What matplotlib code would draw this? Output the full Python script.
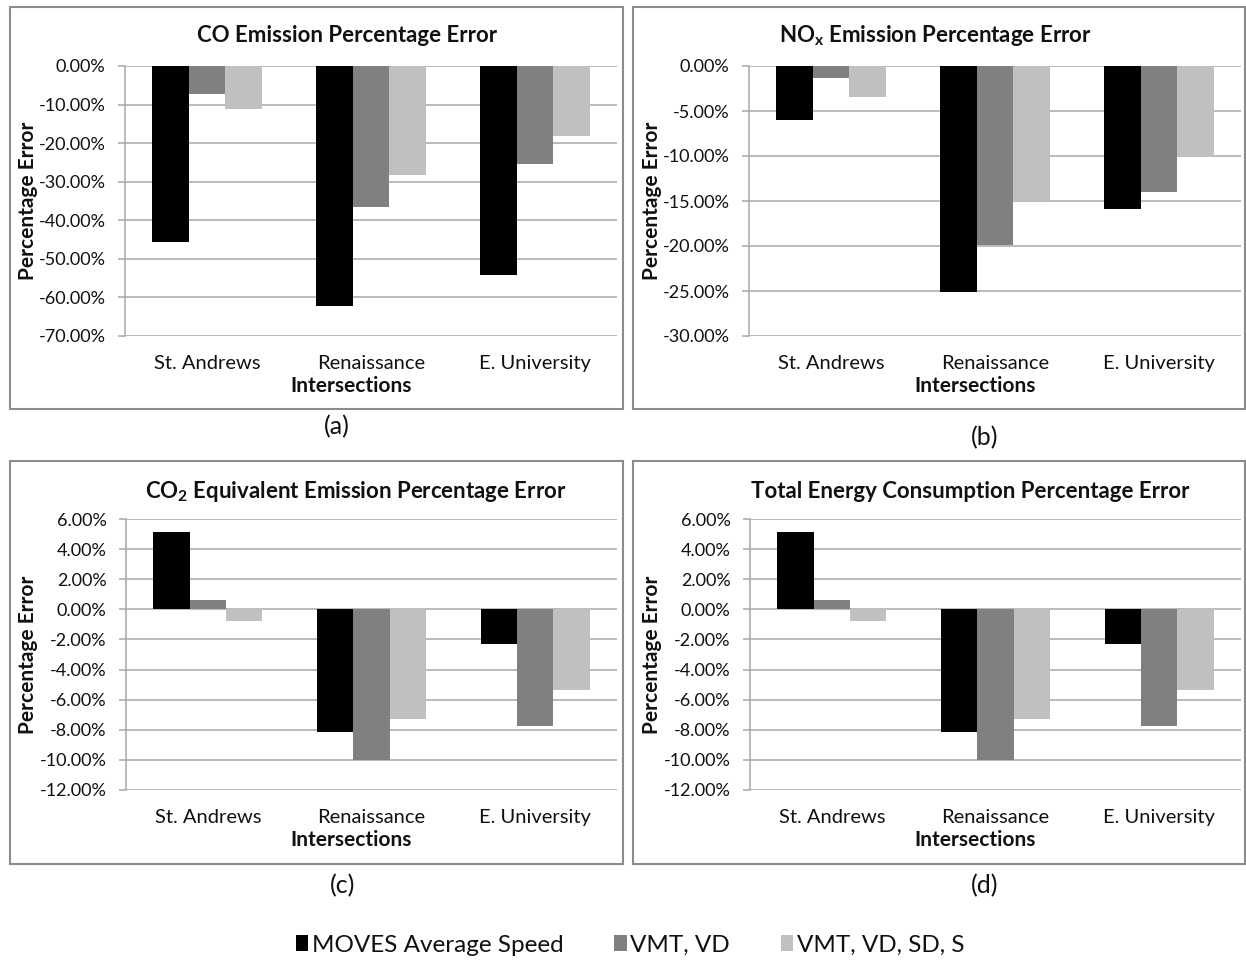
import numpy as np
import matplotlib
matplotlib.use("Agg")
import matplotlib.pyplot as plt
from matplotlib.patches import Rectangle, Patch
from matplotlib.ticker import FuncFormatter

plt.rcParams['font.family'] = ['Lato', 'DejaVu Sans']

# ---- data -------------------------------------------------------------
intersections = ["St. Andrews", "Renaissance", "E. University"]
series = ["MOVES Average Speed", "VMT, VD", "VMT, VD, SD, S"]
colors = ["#000000", "#808080", "#c0c0c0"]

co_error = [
    [-45.5, -62.3, -54.1],   # MOVES Average Speed
    [-7.35, -36.6, -25.5],   # VMT, VD
    [-11.1, -28.3, -18.1],   # VMT, VD, SD, S
]
nox_error = [
    [-6.0, -25.1, -15.9],
    [-1.3, -19.85, -14.0],
    [-3.4, -14.95, -10.15],
]
co2eq_error = [
    [5.14, -8.13, -2.32],
    [0.62, -10.0, -7.73],
    [-0.78, -7.3, -5.39],
]
energy_error = [
    [5.14, -8.13, -2.32],
    [0.62, -10.0, -7.73],
    [-0.78, -7.3, -5.39],
]

titles = [
    "CO Emission Percentage Error",
    r"NO$_\mathregular{x}$ Emission Percentage Error",
    r"CO$_\mathregular{2}$ Equivalent Emission Percentage Error",
    "Total Energy Consumption Percentage Error",
]
panel_tags = ["(a)", "(b)", "(c)", "(d)"]
yticks_list = [
    np.arange(-70, 1, 10),
    np.arange(-30, 1, 5),
    np.arange(-12, 7, 2),
    np.arange(-12, 7, 2),
]
datasets = [co_error, nox_error, co2eq_error, energy_error]

# ---- layout (pixels) ----------------------------------------------------
W, H = 1246, 960
fig = plt.figure(figsize=(W / 100, H / 100), dpi=100)

boxes = [(10, 7, 623, 409), (633, 7, 1245, 409),
         (10, 461, 623, 864), (633, 461, 1245, 864)]
plot_areas = [(125, 66, 617, 336), (749, 66, 1241, 336),
              (126, 519, 617, 790), (750, 519, 1241, 790)]
title_pos = [(347, 35), (935, 35), (356, 491), (970, 491)]
inter_pos = [(351, 386), (975, 386), (351, 840), (975, 840)]
tag_pos = [(337, 427), (985, 438), (343, 886), (985, 886)]
ylabel_x = [28, 652, 28, 652]

grid_c = "#a8a8a8"
border_c = "#8c8c8c"
text_c = "#111111"


def fx(x):
    return x / W


def fy(y):
    return 1 - y / H


pct = FuncFormatter(lambda v, _: f"{v:.2f}%")
bar_w = 1 / 4.5
x = np.arange(len(intersections))

for i in range(4):
    bx0, by0, bx1, by1 = boxes[i]
    fig.patches.append(Rectangle((fx(bx0), fy(by1)), fx(bx1 - bx0), (by1 - by0) / H,
                                 transform=fig.transFigure, fill=False,
                                 edgecolor=border_c, linewidth=1.5, zorder=0))

    x0, y0, x1, y1 = plot_areas[i]
    ax = fig.add_axes([fx(x0), fy(y1), fx(x1 - x0), (y1 - y0) / H])
    data = datasets[i]
    for k in range(3):
        ax.bar(x + (k - 1) * bar_w, data[k], width=bar_w, color=colors[k],
               zorder=3, linewidth=0)

    yt = yticks_list[i]
    ax.set_ylim(yt[0], yt[-1])
    ax.set_yticks(yt)
    ax.yaxis.set_major_formatter(pct)
    ax.set_xlim(-0.5, 2.5)
    ax.set_xticks(x)
    ax.set_xticklabels(intersections)
    ax.grid(axis="y", color=grid_c, linewidth=1.1, zorder=0)
    ax.set_axisbelow(True)
    for s in ("top", "right", "bottom"):
        ax.spines[s].set_visible(False)
    ax.spines["left"].set_color(grid_c)
    ax.spines["left"].set_linewidth(1.1)
    ax.tick_params(axis="y", length=5, width=1.1, color=grid_c, pad=9,
                   labelsize=13, labelcolor=text_c)
    ax.tick_params(axis="x", length=0, pad=14, labelsize=14.5,
                   labelcolor=text_c)

    tx, ty = title_pos[i]
    fig.text(fx(tx), fy(ty), titles[i], ha="center", va="center",
             fontsize=16, fontweight="bold", color=text_c)
    ix, iy = inter_pos[i]
    fig.text(fx(ix), fy(iy), "Intersections", ha="center", va="center",
             fontsize=15, fontweight="bold", color=text_c)
    fig.text(fx(ylabel_x[i]), fy((y0 + y1) / 2), "Percentage Error",
             ha="center", va="center", rotation=90, fontsize=15,
             fontweight="bold", color=text_c)
    gx, gy = tag_pos[i]
    fig.text(fx(gx), fy(gy), panel_tags[i], ha="center", va="center",
             fontsize=18, color=text_c)

handles = [Patch(facecolor=c, edgecolor="none") for c in colors]
fig.legend(handles, series, loc="center", bbox_to_anchor=(fx(630), fy(945)),
           ncol=3, frameon=False, fontsize=17.5, handlelength=0.5,
           handleheight=0.65, handletextpad=0.15, columnspacing=2.1,
           labelcolor=text_c)

fig.savefig("out.png", dpi=100)
